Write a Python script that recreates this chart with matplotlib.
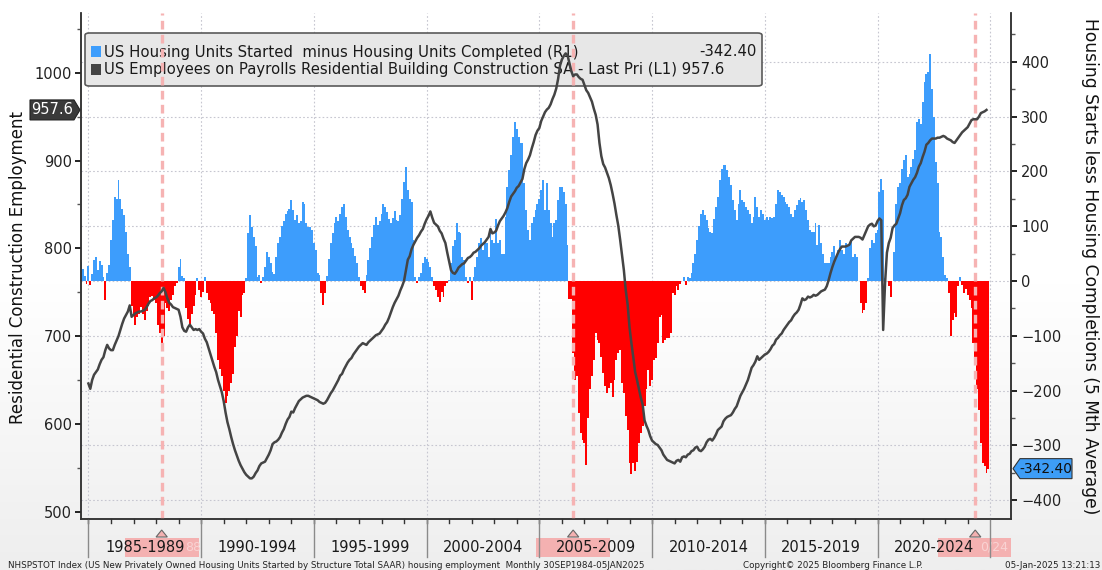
import numpy as np
import matplotlib
matplotlib.use("Agg")
import matplotlib.pyplot as plt
from matplotlib.patches import Rectangle, FancyBboxPatch, Polygon
from matplotlib.transforms import blended_transform_factory
from matplotlib.ticker import FixedLocator
from matplotlib.colors import LinearSegmentedColormap

plt.rcParams['font.family'] = ['DejaVu Sans']

W, H = 1102, 570

# ---------------- data ----------------
# US housing starts minus completions, 5 month average (R1), monthly from Sep 1984
bars_first_month = (1984, 9)
starts_minus_completions = [
    34, 22, 10, -5,                                                     # 1984 Sep-Dec
    28, -8, 12, 38, 44, 20, 36, 30, 8, -35, 14, 30,                     # 1985
    75, 111, 154, 150, 185, 150, 132, 120, 90, 50, 26, -45,             # 1986
    -60, -80, -65, -60, -47, -60, -72, -55, -45, -30, -28, -35,         # 1987
    -40, -80, -95, -120, -100, -40, -50, -55, -35, -25, -10, -3,        # 1988
    25, 40, 10, 5, -50, -70, -83, -60, -45, -25, 5, -16,                # 1989
    -29, -20, 8, -22, -35, -40, -55, -60, -95, -144, -160, -174,        # 1990
    -200, -223, -210, -200, -186, -170, -120, -100, -55, -65, -25, -22, # 1991
    5, 87, 120, 99, 80, 63, 8, 11, -4, 8, 26, 53,                       # 1992
    44, 32, 17, 12, 44, 70, 81, 100, 110, 123, 128, 132,                # 1993
    148, 129, 111, 120, 105, 110, 144, 140, 105, 99, 99, 93,            # 1994
    69, 56, 14, 11, -22, -44, -22, 10, 40, 69, 87, 105,                 # 1995
    117, 110, 123, 135, 141, 117, 93, 81, 69, 60, 45, 32,               # 1996
    8, -10, -16, -22, 11, 38, 60, 81, 102, 117, 102, 110,               # 1997
    123, 141, 135, 125, 114, 105, 115, 128, 111, 110, 120, 150,         # 1998
    181, 208, 166, 150, 144, 75, 8, -3, 8, 14, 32, 44,                  # 1999
    41, 35, 26, 8, -10, -16, -30, -38, -20, -29, -10, -4,               # 2000
    2, 32, 63, 75, 105, 90, 87, 44, 38, 8, -4, 8,                       # 2001
    -35, 8, 26, 44, 69, 78, 56, 69, 69, 44, 93, 75,                     # 2002
    69, 114, 69, 75, 50, 50, 117, 172, 202, 230, 263, 290,              # 2003
    278, 263, 251, 251, 178, 129, 93, 75, 105, 117, 129, 140,           # 2004
    150, 166, 184, 129, 178, 129, 105, 81, 105, 111, 148, 172,          # 2005
    172, 163, 141, 66, -32, -32, -132, -180, -174, -241, -277, -290,    # 2006
    -296, -335, -250, -198, -174, -144, -95, -107, -113, -138, -168, -192,  # 2007
    -205, -195, -186, -211, -180, -144, -132, -126, -186, -205, -247, -271, # 2008
    -332, -353, -332, -347, -330, -296, -277, -265, -229, -198, -162, -192, # 2009
    -180, -144, -140, -113, -65, -62, -113, -107, -104, -104, -95, -22,     # 2010
    -25, -10, -16, -5, 0, 8, -7, 8, 5, 14, 32, 50,                      # 2011
    75, 100, 123, 129, 120, 111, 96, 90, 87, 114, 135, 154,             # 2012
    184, 205, 211, 211, 202, 190, 175, 148, 129, 111, 141, 166,         # 2013
    148, 144, 135, 129, 123, 105, 117, 154, 135, 117, 129, 123,         # 2014
    111, 117, 111, 117, 115, 117, 141, 166, 163, 157, 154, 144,         # 2015
    141, 135, 123, 117, 129, 138, 148, 151, 144, 148, 129, 111,         # 2016
    93, 90, 90, 105, 66, 102, 69, 50, 32, 32, 32, 44,                   # 2017
    53, 63, 44, 56, 75, 56, 50, 69, 63, 63, 75, 44,                     # 2018
    50, 44, 0, -41, -59, -53, -41, 5, 60, 75, 69, 87,                   # 2019
    93, 163, 187, 166, 5, 0, -10, -29, 0, 53, 141, 172,                 # 2020
    178, 205, 220, 230, 190, 196, 208, 223, 239, 290, 296, 287,         # 2021
    327, 363, 378, 381, 415, 351, 299, 217, 178, 90, 81, 44,            # 2022
    11, 5, -22, -101, -71, -59, -65, -10, 8, -7, -22, -15,              # 2023
    -25, -35, -50, -113, -147, -198, -235, -296, -332, -338, -350, -342.4,  # 2024
]

# US employees on payrolls, residential building construction (L1), monthly from Jan 1985
line_first_month = (1985, 1)
employment = [
    646, 640, 650, 656, 659, 662, 668, 673, 676, 684, 690, 686,   # 1985
    684, 684, 690, 695, 700, 707, 714, 720, 724, 728, 735, 722,   # 1986
    724, 726, 727, 728, 728, 729, 730, 733, 737, 740, 741, 743,   # 1987
    744, 746, 749, 751, 755, 750, 743, 738, 736, 733, 732, 731,   # 1988
    730, 722, 710, 706, 705, 710, 713, 710, 707, 708, 707, 708,   # 1989
    705, 703, 697, 693, 686, 679, 672, 665, 659, 650, 643, 636,   # 1990
    626, 613, 602, 594, 585, 577, 570, 564, 558, 553, 549, 545,   # 1991
    542, 540, 538, 538, 540, 544, 547, 552, 555, 556, 557, 561,   # 1992
    565, 570, 577, 579, 580, 582, 585, 590, 594, 600, 605, 608,   # 1993
    614, 613, 618, 622, 626, 628, 630, 631, 632, 632, 631, 630,   # 1994
    629, 628, 627, 625, 624, 623, 624, 627, 631, 635, 638, 642,   # 1995
    646, 650, 655, 657, 662, 666, 670, 673, 675, 679, 682, 685,   # 1996
    688, 690, 692, 691, 690, 693, 695, 697, 699, 701, 702, 703,   # 1997
    706, 709, 713, 716, 721, 727, 733, 738, 742, 746, 752, 757,   # 1998
    763, 775, 787, 791, 799, 804, 808, 812, 815, 819, 822, 828,   # 1999
    833, 837, 842, 835, 829, 827, 825, 820, 817, 811, 806, 795,   # 2000
    785, 775, 772, 771, 774, 778, 780, 782, 783, 786, 789, 790,   # 2001
    792, 795, 796, 798, 800, 803, 805, 807, 810, 813, 822, 817,   # 2002
    818, 820, 826, 831, 834, 837, 841, 846, 853, 859, 862, 865,   # 2003
    869, 871, 875, 879, 890, 897, 901, 906, 914, 921, 929, 934,   # 2004
    937, 945, 950, 955, 958, 960, 964, 970, 975, 982, 993, 1008,  # 2005
    1015, 1019, 1022, 1020, 1011, 1002, 996, 998, 998, 995, 993, 992,  # 2006
    986, 980, 977, 972, 967, 959, 952, 941, 920, 905, 896, 892,   # 2007
    886, 880, 872, 862, 851, 838, 826, 810, 792, 775, 752, 736,   # 2008
    710, 692, 676, 659, 650, 640, 630, 622, 604, 598, 593, 586,   # 2009
    581, 579, 577, 576, 573, 570, 565, 562, 559, 558, 557, 556,   # 2010
    555, 558, 559, 557, 562, 563, 562, 565, 566, 569, 570, 573,   # 2011
    574, 570, 569, 571, 574, 579, 582, 583, 581, 584, 588, 593,   # 2012
    595, 597, 603, 606, 608, 609, 610, 613, 617, 620, 626, 632,   # 2013
    636, 640, 645, 650, 657, 664, 667, 671, 677, 673, 675, 677,   # 2014
    679, 680, 682, 685, 689, 691, 696, 698, 701, 703, 707, 710,   # 2015
    713, 716, 718, 722, 725, 727, 730, 736, 743, 741, 742, 745,   # 2016
    744, 745, 747, 746, 747, 749, 751, 752, 753, 757, 764, 772,   # 2017
    779, 785, 790, 795, 799, 802, 802, 802, 803, 804, 809, 811,   # 2018
    813, 813, 813, 812, 810, 815, 820, 825, 827, 828, 825, 826,   # 2019
    831, 834, 832, 707, 760, 795, 806, 812, 823, 826, 828, 834,   # 2020
    840, 849, 855, 857, 861, 870, 874, 878, 881, 886, 893, 897,   # 2021
    904, 910, 918, 920, 923, 925, 925, 925, 926, 926, 927, 928,   # 2022
    927, 925, 924, 923, 921, 920, 923, 926, 929, 932, 934, 936,   # 2023
    938, 942, 946, 947, 947, 947, 950, 954, 955, 956, 957.6,      # 2024 Jan-Nov
]

period_labels = ["1985-1989", "1990-1994", "1995-1999", "2000-2004",
                 "2005-2009", "2010-2014", "2015-2019", "2020-2024"]
period_start_years = [1985, 1990, 1995, 2000, 2005, 2010, 2015, 2020, 2025]
cycle_marks = [(1988, 4), (2006, 7), (2024, 5)]
# faint date fragments visible in the highlight boxes (the rest is hidden by the period labels)
cycle_mark_text = ["88", "", "0/24"]
cycle_text_offset_px = [31, 0, 19]

last_bar_label = "-342.40"
last_line_label = "957.6"
legend_bar = "US Housing Units Started  minus Housing Units Completed (R1)"
legend_line = "US Employees on Payrolls Residential Building Construction SA - Last Pri (L1) 957.6"

# ---------------- helpers ----------------
def month_index(y, m):
    return (y - bars_first_month[0]) * 12 + (m - bars_first_month[1])

PX_PER_MONTH = 1.879
BLUE = '#3d9dfc'
RED = '#ff0000'
LINE = '#444444'
GRID = '#c6c6d0'
PINK = '#f6b3b3'

fig = plt.figure(figsize=(W / 100, H / 100), dpi=100)

# background gradient
bg = fig.add_axes([0, 0, 1, 1], zorder=-10)
grad = np.linspace(0, 1, 256).reshape(-1, 1)
cmap_bg = LinearSegmentedColormap.from_list('bg', ['#ffffff', '#ffffff', '#eeeeee'])
bg.imshow(grad, aspect='auto', cmap=cmap_bg, extent=[0, 1, 0, 1], origin='upper')
bg.set_axis_off()

ax_l, ax_r, ax_t, ax_b = 81.4, 1011.3, 13, 519
rect = [ax_l / W, 1 - ax_b / H, (ax_r - ax_l) / W, (ax_b - ax_t) / H]
axh = ax_b - ax_t

ax = fig.add_axes(rect)
ax.patch.set_alpha(0)
axL = ax.twinx()
axL.patch.set_alpha(0)

xb = np.arange(len(starts_minus_completions))
vals = np.array(starts_minus_completions, dtype=float)
colors = [BLUE if v >= 0 else RED for v in vals]
ax.bar(xb, vals, width=1.02, color=colors, linewidth=0, zorder=2)

x0_line = month_index(*line_first_month)
xl = x0_line + np.arange(len(employment))
axL.plot(xl, employment, color=LINE, lw=1.8, zorder=5, solid_joinstyle='round')

xlim = (0.27, 495.2)
ax.set_xlim(*xlim)
axL.set_xlim(*xlim)
ax.set_ylim(-434.3, 489)
axL.set_ylim(491.7, 1068)

# grid
for v in range(-400, 401, 100):
    ax.axhline(v, color=GRID, lw=0.8, ls=(0, (1.5, 2)), zorder=1)
for yr in period_start_years:
    ax.axvline(month_index(yr, 1), color=GRID, lw=0.8, ls=(0, (1.5, 2)), zorder=1)

# cycle dashed lines
for (yy, mm) in cycle_marks:
    ax.axvline(month_index(yy, mm), color=PINK, lw=2.4, ls=(0, (2.6, 1.6)), zorder=3)

# axes styling
ax.yaxis.tick_right()
ax.yaxis.set_label_position('right')
axL.yaxis.tick_left()
axL.yaxis.set_label_position('left')
ax.set_xticks([])
axL.set_xticks([])
for a in (ax, axL):
    a.spines['top'].set_visible(False)
    for s in ('left', 'right', 'bottom'):
        a.spines[s].set_color('#333333')
        a.spines[s].set_linewidth(1.1)

ax.yaxis.set_major_locator(FixedLocator(list(range(-400, 401, 100))))
ax.yaxis.set_minor_locator(FixedLocator(list(range(-350, 451, 100))))
axL.yaxis.set_major_locator(FixedLocator(list(range(500, 1001, 100))))
axL.yaxis.set_minor_locator(FixedLocator(list(range(550, 1051, 100))))
for a in (ax, axL):
    a.tick_params(axis='y', which='major', direction='out', length=4, width=1.4,
                  color='#222222', labelsize=10.5, labelcolor='#222222', pad=3)
    a.tick_params(axis='y', which='minor', direction='out', length=3, width=1.0,
                  color='#555555')

# x axis annotations
tr = blended_transform_factory(ax.transData, ax.transAxes)
def fy(px):
    return -px / axh

for yr in range(1985, 2025):
    ax.plot([month_index(yr, 1)] * 2, [0, fy(4)], transform=tr, color='#333333',
            lw=1.0, clip_on=False, zorder=6)
for yr in period_start_years:
    ax.plot([month_index(yr, 1)] * 2, [0, fy(38)], transform=tr, color='#8a8a8a',
            lw=1.0, clip_on=False, zorder=6)

half_box = 37 / PX_PER_MONTH
for (yy, mm), txt, off in zip(cycle_marks, cycle_mark_text, cycle_text_offset_px):
    c = month_index(yy, mm)
    x1 = c - half_box
    x2 = min(c + half_box, xlim[1])
    ax.add_patch(Rectangle((x1, fy(38)), x2 - x1, 19 / axh, transform=tr,
                           facecolor='#f4b1b1', edgecolor='none', clip_on=False, zorder=4))
    if txt:
        ax.text(c + off / PX_PER_MONTH, fy(28.5), txt, transform=tr, ha='center',
                va='center', fontsize=9, color='#f9d3d3', clip_on=False, zorder=4.5)
    tri = Polygon([(c - 3.0, fy(18)), (c, fy(11)), (c + 3.0, fy(18))], closed=True,
                  transform=tr, facecolor='#f4b1b1', edgecolor='#666666', lw=0.8,
                  clip_on=False, zorder=5)
    ax.add_patch(tri)

for k, lab in enumerate(period_labels):
    c = (month_index(period_start_years[k], 1) + month_index(period_start_years[k + 1], 1)) / 2
    ax.text(c, fy(29), lab, transform=tr, ha='center', va='center', fontsize=10.5,
            color='#1a1a1a', clip_on=False, zorder=7)

# axis titles
fig.text(18 / W, 1 - 268 / H, 'Residential Construction Employment', rotation=90,
         ha='center', va='center', fontsize=12, color='#111111')
fig.text(1090 / W, 1 - 266 / H, 'Housing Starts less Housing Completions (5 Mth Average)',
         rotation=270, ha='center', va='center', fontsize=12.3, color='#111111')

# legend (inside the bar axes so the cycle lines and the line series pass over it)
FT = fig.transFigure
ax.add_patch(FancyBboxPatch((85 / W, 1 - 86 / H), (762 - 85) / W, (86 - 33) / H,
                            boxstyle='round,pad=0,rounding_size=0.004', transform=FT,
                            facecolor='#e7e7e7', edgecolor='#5a5a5a', lw=1.2,
                            zorder=1.5, clip_on=False))
ax.add_patch(Rectangle((91 / W, 1 - 57 / H), 10 / W, 11 / H, transform=FT,
                       facecolor=BLUE, edgecolor='none', zorder=1.6, clip_on=False))
ax.add_patch(Rectangle((91 / W, 1 - 75 / H), 10 / W, 11 / H, transform=FT,
                       facecolor='#444444', edgecolor='none', zorder=1.6, clip_on=False))
ax.text(104 / W, 1 - 52 / H, legend_bar, transform=FT, ha='left', va='center',
        fontsize=10.7, color='#1a1a1a', zorder=1.7, clip_on=False)
ax.text(104 / W, 1 - 70 / H, legend_line, transform=FT, ha='left', va='center',
        fontsize=10.7, color='#1a1a1a', zorder=1.7, clip_on=False)
ax.text(757 / W, 1 - 52 / H, last_bar_label, transform=FT, ha='right', va='center',
        fontsize=10.7, color='#1a1a1a', zorder=1.7, clip_on=False)

# value tags
fig.canvas.draw()
yl = axL.transData.transform((10, employment[-1]))[1]
yr_ = ax.transData.transform((10, starts_minus_completions[-1]))[1]
hh = 10
tagL = Polygon([(30, yl - hh), (74, yl - hh), (80, yl), (74, yl + hh), (30, yl + hh)],
               closed=True, transform=None, facecolor='#3a3a3a', edgecolor='#222222',
               lw=0.8, zorder=25, clip_on=False)
fig.add_artist(tagL)
fig.text(52.5 / W, yl / H, last_line_label, ha='center', va='center', fontsize=10.5,
         color='white', zorder=26)
tagR = Polygon([(1013, yr_), (1020, yr_ - hh), (1072, yr_ - hh), (1072, yr_ + hh),
                (1020, yr_ + hh)], closed=True, transform=None, facecolor='#3d9df7',
               edgecolor='#333333', lw=0.8, zorder=25, clip_on=False)
fig.add_artist(tagR)
fig.text(1046 / W, yr_ / H, last_bar_label, ha='center', va='center', fontsize=10,
         color='#111111', zorder=26)

# footer
fig.text(8 / W, 1 - 565 / H,
         'NHSPSTOT Index (US New Privately Owned Housing Units Started by Structure Total SAAR) '
         'housing employment  Monthly 30SEP1984-05JAN2025',
         ha='left', va='center', fontsize=6.3, color='#222222')
fig.text(743 / W, 1 - 565 / H, 'Copyright\u00a9 2025 Bloomberg Finance L.P.',
         ha='left', va='center', fontsize=6.3, color='#222222')
fig.text(1100 / W, 1 - 565 / H, '05-Jan-2025 13:21:13', ha='right', va='center',
         fontsize=6.3, color='#222222')

fig.savefig('out.png', dpi=100)
